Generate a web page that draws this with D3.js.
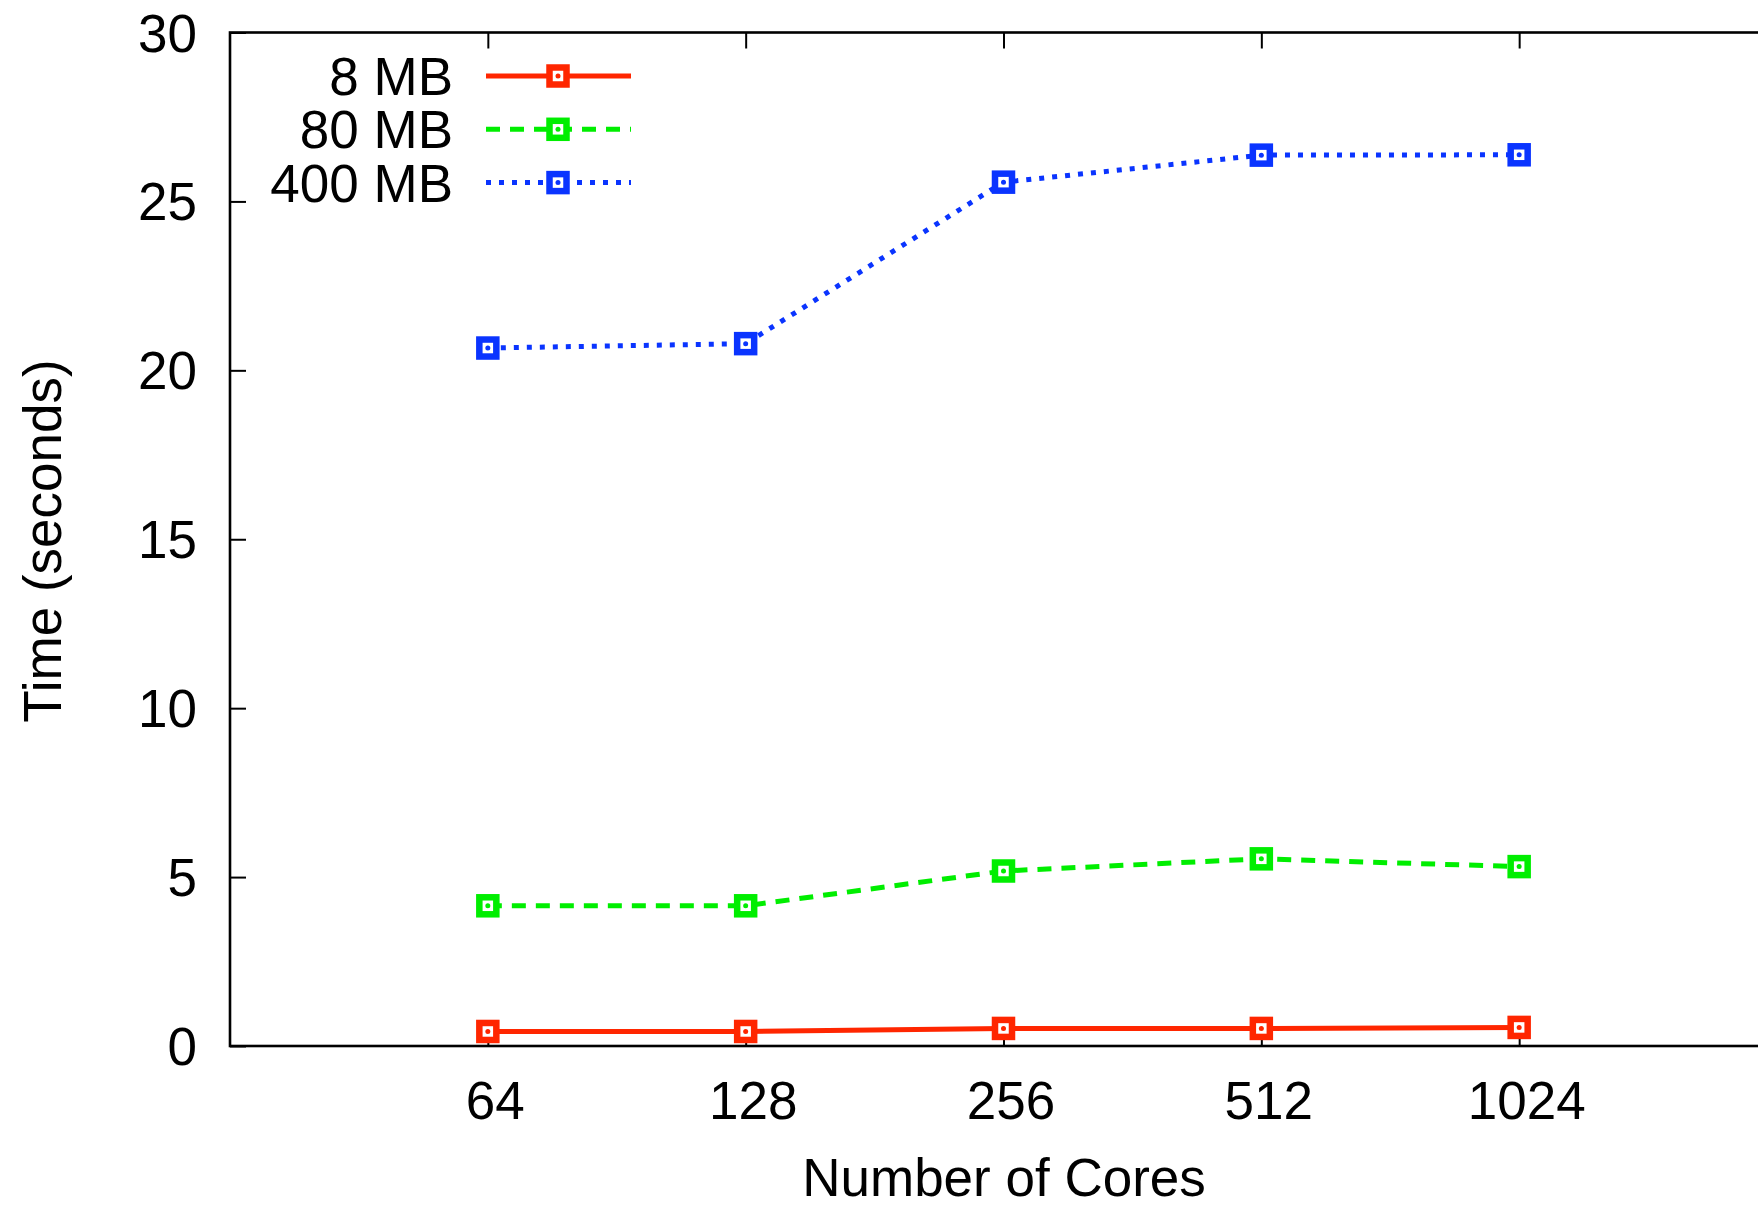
<!DOCTYPE html>
<html>
<head>
<meta charset="utf-8">
<script src="https://cdn.jsdelivr.net/npm/d3@7"></script>
<style>
  body { margin: 0; background: #fff; }
  svg { display: block; font-family: "Liberation Sans", Arial, Helvetica, sans-serif; }
</style>
</head>
<body>
<svg class="chart" width="1758" height="1206"></svg>
<script>
// data
var cores = ["64", "128", "256", "512", "1024"];
var seriesNames = ["8 MB", "80 MB", "400 MB"];
var time8 = [0.43, 0.43, 0.52, 0.52, 0.55];
var time80 = [4.15, 4.15, 5.18, 5.54, 5.31];
var time400 = [20.66, 20.79, 25.57, 26.37, 26.38];
var yTicks = [0, 5, 10, 15, 20, 25, 30];

function drawChart() {
    var svg = d3.select(".chart");
    var plotLeft = 230, plotRight = 1777, plotTop = 32.5, plotBottom = 1046;
    var fontSize = "53px";

    // x is positional: 64 sits one step in from the left border, like gnuplot's xrange [-1:5]
    var x = d3.scaleLinear().domain([-1, 5]).range([plotLeft, plotRight]);
    var y = d3.scaleLinear().domain([0, 30]).range([plotBottom, plotTop]);

    var series = [
        {name: seriesNames[0], values: time8, color: "#ff2600", dash: null},
        {name: seriesNames[1], values: time80, color: "#00ee00", dash: "14,10"},
        {name: seriesNames[2], values: time400, color: "#0a34ff", dash: "5,8"}
    ];

    // frame
    svg.append("rect")
        .attr("x", plotLeft).attr("y", plotTop)
        .attr("width", plotRight - plotLeft).attr("height", plotBottom - plotTop)
        .attr("fill", "none").attr("stroke", "#000").attr("stroke-width", 2.6);

    var idx = d3.range(cores.length);

    var xAxis = svg.append("g")
        .attr("transform", "translate(0," + plotBottom + ")")
        .call(d3.axisBottom(x).tickValues(idx)
            .tickFormat(function(i) { return cores[i]; })
            .tickSizeInner(-16).tickSizeOuter(0).tickPadding(35));

    var xTop = svg.append("g")
        .attr("transform", "translate(0," + plotTop + ")")
        .call(d3.axisTop(x).tickValues(idx).tickFormat("")
            .tickSizeInner(-16).tickSizeOuter(0));

    var yAxis = svg.append("g")
        .attr("transform", "translate(" + plotLeft + ",0)")
        .call(d3.axisLeft(y).tickValues(yTicks)
            .tickSizeInner(-16).tickSizeOuter(0).tickPadding(33));

    [xAxis, xTop, yAxis].forEach(function(a) {
        a.select(".domain").remove();
        a.selectAll(".tick line").attr("stroke", "#000").attr("stroke-width", 2);
        a.selectAll("text")
            .attr("fill", "#000")
            .style("font-family", "'Liberation Sans', Arial, sans-serif")
            .style("font-size", fontSize);
    });
    xAxis.selectAll("text").attr("dx", 7);
    yAxis.selectAll("text").attr("dy", "0.35em");

    // axis titles
    svg.append("text")
        .attr("x", 1004).attr("y", 1196)
        .attr("text-anchor", "middle")
        .style("font-size", fontSize)
        .text("Number of Cores");

    svg.append("text")
        .attr("transform", "translate(61,541) rotate(-90)")
        .attr("text-anchor", "middle")
        .style("font-size", fontSize)
        .text("Time (seconds)");

    // lines
    var line = d3.line()
        .x(function(d, i) { return x(i); })
        .y(function(d) { return y(d); });

    function marker(g, cx, cy, color) {
        g.append("rect")
            .attr("x", cx - 8.5).attr("y", cy - 8.5)
            .attr("width", 17).attr("height", 17)
            .attr("fill", "#fff").attr("stroke", color).attr("stroke-width", 6.5);
        g.append("circle")
            .attr("cx", cx).attr("cy", cy).attr("r", 2.5)
            .attr("fill", color);
    }

    series.forEach(function(s) {
        var g = svg.append("g");
        g.append("path")
            .attr("d", line(s.values))
            .attr("fill", "none")
            .attr("stroke", s.color)
            .attr("stroke-width", 5)
            .attr("stroke-dasharray", s.dash);
        s.values.forEach(function(v, i) {
            marker(g, x(i), y(v), s.color);
        });
    });

    // legend
    var legend = svg.append("g");
    series.forEach(function(s, i) {
        var ly = 76 + i * 53.3;
        legend.append("text")
            .attr("x", 453).attr("y", ly)
            .attr("dy", "0.36em")
            .attr("text-anchor", "end")
            .style("font-size", fontSize)
            .text(s.name);
        legend.append("line")
            .attr("x1", 486).attr("x2", 631)
            .attr("y1", ly).attr("y2", ly)
            .attr("stroke", s.color)
            .attr("stroke-width", 5)
            .attr("stroke-dasharray", s.dash);
        marker(legend, 558, ly, s.color);
    });
}

drawChart();
</script>
</body>
</html>
